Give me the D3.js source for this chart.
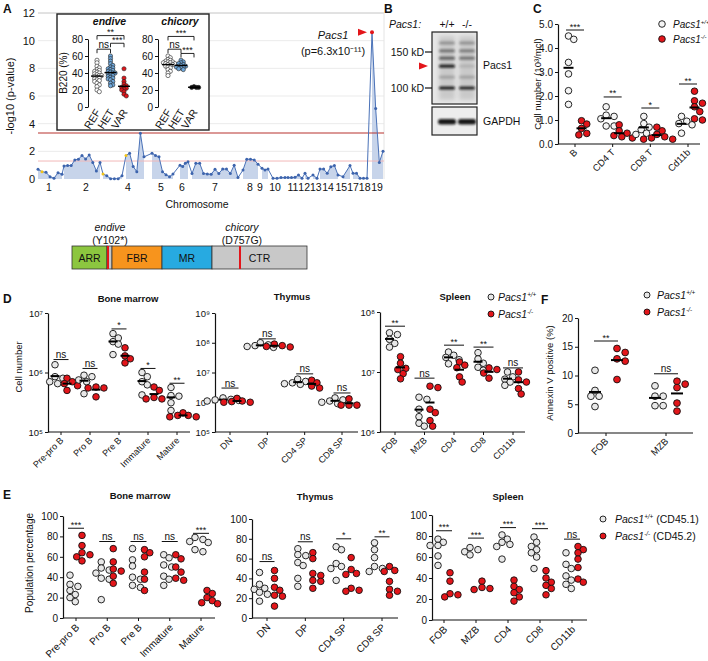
<!DOCTYPE html>
<html><head><meta charset="utf-8">
<script src="https://cdn.jsdelivr.net/npm/d3@7"></script>
<style>body{margin:0;background:#fff}svg{display:block;font-family:"Liberation Sans",Arial,Helvetica,sans-serif}text{fill:#111}</style>
</head><body><svg id="c" width="708" height="661"></svg>
<script>
// ================= DATA =================
// Panel A: Manhattan plot
const manhattanChroms = ["1","2","3","4","5","6","7","8","9","10","11","12","13","14","15","16-18","19"];
const manhattanSpans = [[0,24],[26,62],[65,84],[88,106],[114,135],[142,150],[154,200],[205,220],[224,230],[235,247],[250,264],[267,270],[275,279],[282,300],[305,312],[315,329],[334,345]];
const manhattanValues = [
 [0.7,0.53,0.48,0.17,0.05,0.46,0.34],
 [0.94,0.97,0.97,1.38,1.43,1.7,1.45,1.74,1.2,0.58,1.2],
 [0.36,0.24,0.02,0.02,0.02,0.24],
 [1.7,1.86,0.9,0.53,3.3,1.6],
 [1.86,1.7,1.6,0.53,0.3,0.17,0.36],
 [1.0,0.9,1.13,1.25],
 [0.4,1.13,1.13,0.4,0.36,0.34,0.7,0.4,0.72,0.72,0.4,1.0,0.1],
 [0.65,1.43,1.43,1.38,1.07],
 [0.77,0.65,0.72],
 [0.05,0.05,0.1,0.1],
 [0.1,0.1,0.12,0.29,0.05],
 [0.41,0.05],
 [0.29,0.05],
 [0.72,0.72,0.41,0.89,0.97,0.29],
 [0.17,0.97],
 [0.41,0.41,0.05,0.05,0.05],
 [10.6,5.1,1.2,2.0]
];
const manhattanYellow = [[0,1],[2,0],[3,0]];
const manhattanPeak = [16,0];
const chromLabels = ["1","2","4","5","6","7","8","9","10","11","1213","14","151718","19"];
const chromLabelPos = [11,48,90,123,144,177,212,222,237,255,272,290,315,339];
const thresholdStrict = 3.33, thresholdSuggestive = 1.3;
const manhattanTicks = [0,2,4,6,8,10,12];

// Inset (B220 %)
const insetGroups = ["REF","HET","VAR"];
const endiveVals = [
 [55,52,48,46,44,43,42,41,40,39,38,37,37,36,35,34,33,32,31,30,28,26,24,20,18],
 [60,57,54,51,49,47,46,45,44,43,42,41,40,40,39,38,37,36,35,34,33,32,30,28,26,25],
 [45,34,30,27,25,24,23,22,21,20,18,15,13]
];
const chicoryVals = [
 [60,58,56,55,54,53,53,52,52,51,51,50,50,49,48,47,46,44,42,40,37],
 [55,53,52,51,50,49,48,48,47,47,46,45,44],
 [23,23,23,24]
];
const endiveSig = [{a:0,b:2,t:"**",lvl:84},{a:0,b:1,t:"ns",lvl:68},{a:1,b:2,t:"***",lvl:75}];
const chicorySig = [{a:0,b:2,t:"***",lvl:83},{a:0,b:1,t:"ns",lvl:68},{a:1,b:2,t:"***",lvl:63}];

// Panel B: western blot
const blotLanes = ["+/+","-/-"];
const blotMarkers = [150,100];
const pacsBands = [
 {kd:166,wt:0.3,ko:0.3},{kd:152,wt:0.45,ko:0.4},{kd:140,wt:0.55,ko:0.45},
 {kd:128,wt:0.9,ko:0.12},{kd:113,wt:0.2,ko:0.2},{kd:100,wt:0.95,ko:0.9}
];
const gapdhBand = [0.95,0.95];

// Panel C
const cCats = ["B","CD4 T","CD8 T","Cd11b"];
const cWT = [[4.5,4.36,3.4,2.92,2.22,1.65],[1.55,1.2,1.15,1.05,0.75,0.75],[1.15,0.85,0.7,0.6,0.45,0.4],[1.15,0.95,0.85,0.8,0.45]];
const cKO = [[0.97,0.83,0.65,0.44,0.38],[0.8,0.55,0.45,0.35,0.3,0.25],[0.7,0.55,0.4,0.3,0.25,0.2,0.2],[2.2,1.8,1.7,1.55,1.35,1.05,1.0]];
const cSig = ["***","**","*","**"], cSigLevel = [4.75,1.96,1.5,2.5];
const cTicks = [0,1,2,3,4,5];

// Domain diagram
const domains = [
 {name:"ARR",s:0,e:35,c:"#8cc63f"},{name:"",s:35,e:40,c:"#c8c8c8"},
 {name:"FBR",s:40,e:90,c:"#f7941d"},{name:"MR",s:90,e:140,c:"#27aae1"},
 {name:"CTR",s:140,e:235,c:"#c8c8c8"}
];
const mutations = [{pos:36,name:"endive",aa:"(Y102*)"},{pos:168,name:"chicory",aa:"(D757G)"}];

// Panel D
const dBMCats = ["Pre-pro B","Pro B","Pre B","Immature","Mature"];
const dBMWT = [[1.35e6,8.5e5,8e5,7e5,6.5e5],[9e5,8.5e5,7.5e5,7e5,4.4e5],[4.5e6,3.8e6,3.3e6,3.0e6,2.0e6],[1.0e6,8.5e5,7e5,6.2e5,4.2e5],[5.6e5,4.1e5,4.0e5,3.1e5,2.3e5]];
const dBMKO = [[8e5,7e5,6.5e5,6e5,5e5],[5.7e5,5.5e5,5.5e5,3.9e5],[2.6e6,1.9e6,1.7e6,1.45e6],[5.7e5,5e5,3.8e5,3.6e5,3.6e5],[2.1e5,1.9e5,1.8e5,1.8e5,1.9e5]];
const dBMSig = ["ns","ns","*","*","**"], dBMSigLevel = [1.65e6,1.17e6,5.4e6,1.17e6,6.6e5];
const dThyCats = ["DN","DP","CD4 SP","CD8 SP"];
const dThyWT = [[1.4e6,1.25e6,1.15e6,1.1e6,1.2e6],[1.0e8,8.5e7,7.5e7,7e7,8e7],[6e6,5e6,4.5e6,4e6,4.2e6],[1.4e6,1.2e6,1.1e6,0.9e6,1.0e6]];
const dThyKO = [[1.35e6,1.1e6,1.0e6,1.0e6,1.05e6],[9e7,8e7,7.5e7,7.2e7],[5.5e6,4.5e6,3.5e6,3.0e6],[1.3e6,0.8e6,0.8e6,0.8e6]];
const dThySig = ["ns","ns","ns","ns"], dThySigLevel = [3e6,1.35e8,9e6,2.05e6];
const dSplCats = ["FOB","MZB","CD4","CD8","CD11b"];
const dSplWT = [[4.5e7,4.2e7,3.5e7,3.0e7,2.6e7],[3.8e6,3.5e6,2.4e6,1.8e6,1.4e6,1.25e6],[2.15e7,1.9e7,1.75e7,1.6e7,1.37e7],[2.1e7,1.65e7,1.4e7,1.2e7,1.07e7],[1.0e7,8.3e6,7.6e6,6.8e6,6e6]];
const dSplKO = [[1.8e7,1.4e7,1.15e7,1.1e7,9.4e6,7.7e6],[5.8e6,5.5e6,2.4e6,2.1e6,1.55e6,1.25e6],[1.47e7,1.3e7,1.18e7,8.3e6,6.8e6],[1.17e7,1.1e7,9.6e6,7.9e6],[1e7,7.4e6,6.8e6,5.3e6,4.3e6]];
const dSplSig = ["**","ns","**","**","ns"], dSplSigLevel = [5.8e7,7.9e6,2.8e7,2.6e7,1.17e7];

// Panel F
const fCats = ["FOB","MZB"];
const fWT = [[10.9,7.4,6.4,6.4,4.6],[8.2,6.4,6.4,4.75,4.75]];
const fKO = [[14.7,14.0,12.9,12.5,9.3],[9.0,8.5,7.9,5.2,3.8]];
const fSig = ["**","ns"], fSigLevel = [16,10.3];
const fTicks = [0,5,10,15,20];

// Panel E
const eTicks = [0,20,40,60,80,100];
const eBMWT = [[42,33,31,27,23,20,16],[55,49,47,44,39,38,18],[68,57,51,40,38,32,30],[62,59,52,50,41,38,32],[79,77,75,74,67,65]];
const eBMKO = [[81,71,64,62,60,56],[68,55,48,46,41,34],[67,64,60,45,38,27],[62,58,50,45,39,37],[27,24,20,17,15,14]];
const eBMSig = ["***","ns","ns","ns","***"], eBMSigLevel = [88,75,75,75,83];
const eThyWT = [[46,34,30,29,26,24,17],[70,64,63,56,53,40,32],[72,69,55,52,50,38],[76,69,61,52,50,47]];
const eThyKO = [[48,40,31,28,23,22,12],[66,60,45,43,38,37,30],[61,49,45,44,30,28,27],[52,48,47,37,29,27,23]];
const eThySig = ["ns","ns","*","**"], eThySigLevel = [57,77,80,82];
const eSplWT = [[77,74,71,71,61,52],[69,67,65,62],[81,77,74,72,70,58],[79,74,70,67,64,60,49],[64,53,49,42,38,34,30]];
const eSplKO = [[45,37,25,24,22],[37,31,30,29],[38,32,29,26,22,18],[47,40,36,33,30,24],[70,67,64,58,50,39,36]];
const eSplSig = ["***","***","***","***","ns"], eSplSigLevel = [85,78,88,87,77];

// ================= DRAWING =================
const svg = d3.select("#c");
const RED = "#e3151a", WT = "#e8e8e8", INK = "#111";
const defs = svg.append("defs");
defs.append("filter").attr("id","blur").attr("x","-50%").attr("y","-100%").attr("width","200%").attr("height","300%")
  .append("feGaussianBlur").attr("stdDeviation",0.9);
defs.append("filter").attr("id","blur2").attr("x","-50%").attr("y","-50%").attr("width","200%").attr("height","200%")
  .append("feGaussianBlur").attr("stdDeviation",2.2);

function txt(sel,x,y,s,size,o={}){
  const t=sel.append("text").attr("x",x).attr("y",y).attr("font-size",size).attr("text-anchor",o.anchor||"start");
  if(o.bold) t.attr("font-weight","bold");
  if(o.italic) t.attr("font-style","italic");
  if(o.rot!==undefined) t.attr("transform",`rotate(${o.rot},${x},${y})`);
  t.text(s); return t;
}
function pacsText(sel,x,y,size,sup,extra,anchor){
  const t=sel.append("text").attr("x",x).attr("y",y).attr("font-size",size).attr("text-anchor",anchor||"start");
  t.append("tspan").attr("font-style","italic").text("Pacs1");
  t.append("tspan").attr("font-size",size*0.6).attr("dy",-size*0.38).attr("font-style","italic").text(sup);
  if(extra) t.append("tspan").attr("dy",size*0.38).text(extra);
  return t;
}
function swarm(vals,ys,x0,r,spread,coll){
  const pts=vals.map(v=>({v,y:ys(v)})).sort((a,b)=>a.y-b.y);
  const placed=[]; const step=r*(spread||0.8); const minD=2*r*(coll||0.88);
  for(const p of pts){
    p.x=x0;
    for(let k=0;k<80;k++){
      const off=k===0?0:((k%2)?1:-1)*Math.ceil(k/2)*step;
      const xx=x0+off;
      if(placed.every(q=>(q.x-xx)**2+(q.y-p.y)**2>=minD*minD)){p.x=xx;break;}
    }
    placed.push(p);
  }
  return placed;
}

// ---------- Panel A ----------
txt(svg,3,13,"A",12,{bold:true});
const xA=d3.scaleLinear().domain([0,346]).range([38,384]);
const yA=d3.scaleLinear().domain([0,12]).range([179,13]);
const gA=svg.append("g");
gA.selectAll(".grid").data(manhattanTicks.filter(d=>d>0)).join("line")
  .attr("x1",xA(0)).attr("x2",xA(346)).attr("y1",d=>yA(d)).attr("y2",d=>yA(d))
  .attr("stroke",d=>d===12?"#c4c4c4":"#ebebeb").attr("stroke-width",1);
gA.append("line").attr("x1",xA(346)).attr("x2",xA(346)).attr("y1",yA(12)).attr("y2",yA(0)).attr("stroke","#e4e4e4");
const mPts=[];
manhattanValues.forEach((vals,i)=>{
  const [s0,s1]=manhattanSpans[i];
  vals.forEach((v,j)=>mPts.push({chr:i,j,v,pos:vals.length>1?s0+(s1-s0)*j/(vals.length-1):s0}));
});
const area=d3.area().x(p=>xA(p.pos)).y0(yA(0)).y1(p=>yA(p.v));
manhattanChroms.forEach((c,i)=>{
  gA.append("path").datum(mPts.filter(p=>p.chr===i)).attr("d",area).attr("fill","#c7d4ea");
});
gA.append("line").attr("x1",xA(0)).attr("x2",xA(346)).attr("y1",yA(thresholdSuggestive)).attr("y2",yA(thresholdSuggestive)).attr("stroke","#f2b8b8").attr("stroke-width",1);
gA.append("line").attr("x1",xA(0)).attr("x2",xA(346)).attr("y1",yA(thresholdStrict)).attr("y2",yA(thresholdStrict)).attr("stroke","#b8322e").attr("stroke-width",1.1);
gA.append("path").datum(mPts).attr("d",d3.line().x(p=>xA(p.pos)).y(p=>yA(p.v))).attr("fill","none").attr("stroke","#4a72b8").attr("stroke-width",1);
const isYellow=p=>manhattanYellow.some(([c,j])=>c===p.chr&&j===p.j);
const isPeak=p=>p.chr===manhattanPeak[0]&&p.j===manhattanPeak[1];
gA.selectAll(".mp").data(mPts).join("circle").attr("cx",p=>xA(p.pos)).attr("cy",p=>yA(p.v))
  .attr("r",p=>isPeak(p)?2:1.5).attr("fill",p=>isPeak(p)?RED:isYellow(p)?"#f2c318":"#3d64ad");
gA.selectAll(".yt").data(manhattanTicks).join("text").attr("x",35).attr("y",d=>yA(d)+4).attr("text-anchor","end").attr("font-size",11).text(d=>d);
gA.selectAll(".cl").data(chromLabels).join("text").attr("x",(d,i)=>xA(chromLabelPos[i])).attr("y",191).attr("text-anchor","middle").attr("font-size",10.5).text(d=>d);
txt(gA,14,96,"-log10 (p-value)",11,{anchor:"middle",rot:-90});
txt(gA,197,208,"Chromosome",10.5,{anchor:"middle"});
const peak=mPts.find(isPeak);
const px=xA(peak.pos), py=yA(peak.v);
gA.append("path").attr("d",`M${px-14},${py-3.5}L${px-5},${py}L${px-14},${py+3.5}Z`).attr("fill",RED);
txt(gA,333,39,"Pacs1",11,{anchor:"middle",italic:true});
txt(gA,333,55,"(p=6.3x10⁻¹¹)",11,{anchor:"middle"});

// inset
const gI=svg.append("g");
gI.append("rect").attr("x",57).attr("y",14).attr("width",152).attr("height",116).attr("fill","#fff").attr("stroke","#222").attr("stroke-width",1.4);
const yI=d3.scaleLinear().domain([0,80]).range([107,39]);
txt(gI,67,73,"B220 (%)",10,{anchor:"middle",rot:-90});
function insetPlot(axisX,range,vals,fills,sigs,title){
  const x=d3.scalePoint().domain(insetGroups).range(range);
  const ax=gI.append("g").attr("transform",`translate(${axisX},0)`).call(d3.axisLeft(yI).tickValues([0,20,40,60,80]).tickSize(3).tickSizeOuter(0).tickPadding(2));
  ax.selectAll("text").attr("font-size",10).attr("font-family","inherit").attr("fill",INK);
  ax.selectAll("line,path").attr("stroke",INK);
  txt(gI,(range[0]+range[1])/2-1,25,title,10.5,{anchor:"middle",bold:true,italic:true});
  insetGroups.forEach((g,i)=>{
    const pts=swarm(vals[i],yI,x(g),2.1,0.55,0.55);
    gI.selectAll(null).data(pts).join("circle").attr("cx",p=>p.x).attr("cy",p=>p.y).attr("r",2.1)
      .attr("fill",fills[i]).attr("stroke","#222").attr("stroke-width",0.6);
    const m=d3.mean(vals[i]);
    gI.append("line").attr("x1",x(g)-6).attr("x2",x(g)+6).attr("y1",yI(m)).attr("y2",yI(m)).attr("stroke","#000").attr("stroke-width",1.4);
    gI.append("text").attr("transform",`translate(${x(g)+4},${112}) rotate(-58)`).attr("text-anchor","end").attr("font-size",10.5).text(g);
  });
  sigs.forEach(s=>{
    const y=yI(s.lvl), xa=x(insetGroups[s.a]), xb=x(insetGroups[s.b]);
    gI.append("path").attr("d",`M${xa},${y+4}V${y}H${xb}V${y+4}`).attr("fill","none").attr("stroke",INK).attr("stroke-width",0.9);
    gI.append("text").attr("x",(xa+xb)/2).attr("y",s.t==="ns"?y-1.5:y-0.5).attr("text-anchor","middle").attr("font-size",s.t==="ns"?10:9).text(s.t);
  });
}
insetPlot(88,[97,124],endiveVals,["#fff","#6fa8dc",RED],endiveSig,"endive");
insetPlot(158,[168,194],chicoryVals,["#fff","#6fa8dc","#111"],chicorySig,"chicory");

// ---------- Panel B ----------
const gB=svg.append("g");
txt(gB,384,13,"B",12,{bold:true});
const yBlot=d3.scaleLog().domain([100,150]).range([88,52]);
const xBlot=d3.scalePoint().domain(blotLanes).range([447,467]);
txt(gB,389,28,"Pacs1:",10.5,{italic:true});
blotLanes.forEach(l=>txt(gB,xBlot(l),28,l,10.5,{anchor:"middle"}));
gB.append("rect").attr("x",432).attr("y",32).attr("width",45).attr("height",72).attr("fill","#e6e6e6");
gB.append("rect").attr("x",432).attr("y",107).attr("width",45).attr("height",28).attr("fill","#ededed");
blotLanes.forEach((l,li)=>{
  gB.append("rect").attr("x",xBlot(l)-8).attr("y",36).attr("width",16).attr("height",64).attr("fill","#a8a8a8").attr("opacity",0.45).attr("filter","url(#blur2)");
  pacsBands.forEach(b=>{
    gB.append("rect").attr("x",xBlot(l)-8).attr("y",yBlot(b.kd)-1.6).attr("width",16).attr("height",3.2).attr("rx",1.5)
      .attr("fill","#111").attr("opacity",li===0?b.wt:b.ko).attr("filter","url(#blur)");
  });
  gB.append("rect").attr("x",xBlot(l)-9).attr("y",119).attr("width",18).attr("height",5.5).attr("rx",2.5)
    .attr("fill","#111").attr("opacity",gapdhBand[li]).attr("filter","url(#blur)");
});
gB.append("rect").attr("x",432).attr("y",32).attr("width",45).attr("height",72).attr("fill","none").attr("stroke","#222").attr("stroke-width",1.2);
gB.append("rect").attr("x",432).attr("y",107).attr("width",45).attr("height",28).attr("fill","none").attr("stroke","#222").attr("stroke-width",1.2);
blotMarkers.forEach(m=>{
  gB.append("line").attr("x1",425).attr("x2",432).attr("y1",yBlot(m)).attr("y2",yBlot(m)).attr("stroke",INK).attr("stroke-width",1.2);
  txt(gB,424,yBlot(m)+3.8,m+" kD",10.5,{anchor:"end"});
});
const ay=yBlot(pacsBands[3].kd);
gB.append("path").attr("d",`M419,${ay-3.5}L428,${ay}L419,${ay+3.5}Z`).attr("fill",RED);
txt(gB,483,69,"Pacs1",10.5);
txt(gB,483,125,"GAPDH",10.5);

// ---------- generic dot panel ----------
function dotPanel(o){
  const g=svg.append("g");
  const x=d3.scalePoint().domain(o.cats).range(o.catRange);
  const yb=o.y.range()[0];
  const ax=d3.axisLeft(o.y).tickValues(o.ticks).tickSize(3).tickSizeOuter(0).tickPadding(2);
  if(o.fmt) ax.tickFormat(o.fmt);
  const ga=g.append("g").attr("transform",`translate(${o.axisX0},0)`).call(ax);
  ga.selectAll("text").attr("font-size",o.tickSize||9.5).attr("fill",INK).attr("font-family","inherit");
  ga.selectAll("line,path").attr("stroke",INK);
  ga.select(".domain").attr("stroke-width",1.2);
  g.append("line").attr("x1",o.axisX0).attr("x2",o.axisX1).attr("y1",yb).attr("y2",yb).attr("stroke",INK).attr("stroke-width",1.2);
  g.selectAll(".xt").data(o.cats).join("line").attr("x1",d=>x(d)).attr("x2",d=>x(d)).attr("y1",yb).attr("y2",yb+3).attr("stroke",INK);
  g.selectAll(".xl").data(o.cats).join("text").attr("transform",d=>`translate(${x(d)+o.lx},${yb+o.ly}) rotate(-45)`)
    .attr("text-anchor","end").attr("font-size",o.catSize).text(d=>d);
  o.cats.forEach((c,i)=>{
    [[o.wt[i],-o.off,o.wtFill||WT],[o.ko[i],o.off,RED]].forEach(([vals,dx,fill])=>{
      const pts=swarm(vals,o.y,x(c)+dx,o.r,o.spread);
      g.selectAll(null).data(pts).join("circle").attr("cx",p=>p.x).attr("cy",p=>p.y).attr("r",o.r)
        .attr("fill",fill).attr("stroke",INK).attr("stroke-width",0.9);
      if(o.means){const m=d3.mean(vals);
        g.append("line").attr("x1",x(c)+dx-o.mw).attr("x2",x(c)+dx+o.mw).attr("y1",o.y(m)).attr("y2",o.y(m)).attr("stroke","#000").attr("stroke-width",2);}
    });
    const sy=o.y(o.sigLevel[i]); const s=o.sig[i];
    g.append("line").attr("x1",x(c)-o.sigHalf).attr("x2",x(c)+o.sigHalf).attr("y1",sy).attr("y2",sy).attr("stroke",INK).attr("stroke-width",1);
    g.append("text").attr("x",x(c)).attr("y",s==="ns"?sy-1.5:sy-0.5).attr("text-anchor","middle").attr("font-size",s==="ns"?10:9).text(s);
  });
  if(o.title) txt(g,o.title[1],o.title[2],o.title[0],9.5,{anchor:"middle",bold:true});
  return g;
}
const supDigits={5:"⁵",6:"⁶",7:"⁷",8:"⁸",9:"⁹"};
const logFmt=d=>"10"+supDigits[Math.round(Math.log10(d))];

// ---------- Panel C ----------
txt(svg,533,13,"C",12,{bold:true});
dotPanel({cats:cCats,wt:cWT,ko:cKO,axisX0:558,axisX1:700,catRange:[575,688],
  y:d3.scaleLinear().domain([0,5]).range([144,24]),ticks:cTicks,r:3.3,off:6.5,means:true,mw:5,
  sig:cSig,sigLevel:cSigLevel,sigHalf:9,lx:3,ly:9,catSize:9.5,tickSize:10,wtFill:"#f4f4f4",spread:0.8});
txt(svg,541,84,"Cell number (10³/mcl)",9.5,{anchor:"middle",rot:-90});
svg.append("circle").attr("cx",662).attr("cy",24).attr("r",3.3).attr("fill","#f4f4f4").attr("stroke",INK).attr("stroke-width",0.9);
svg.append("circle").attr("cx",662).attr("cy",39).attr("r",3.3).attr("fill",RED).attr("stroke",INK).attr("stroke-width",0.9);
pacsText(svg,673,28,10,"+/+");
pacsText(svg,673,43,10,"-/-");

// ---------- domain diagram ----------
const xDom=d3.scaleLinear().domain([0,235]).range([72,307]);
const gDom=svg.append("g");
domains.forEach(d=>{
  gDom.append("rect").attr("x",xDom(d.s)).attr("y",246).attr("width",xDom(d.e)-xDom(d.s)).attr("height",23).attr("fill",d.c).attr("stroke","#333").attr("stroke-width",0.8);
  if(d.name) txt(gDom,xDom((d.s+d.e)/2),261.5,d.name,10.5,{anchor:"middle"});
});
mutations.forEach(m=>{
  gDom.append("line").attr("x1",xDom(m.pos)).attr("x2",xDom(m.pos)).attr("y1",246).attr("y2",269).attr("stroke",RED).attr("stroke-width",2);
  txt(gDom,xDom(m.pos)+2,231,m.name,10.5,{anchor:"middle",italic:true});
  txt(gDom,xDom(m.pos)+2,244,m.aa,10.5,{anchor:"middle"});
});

// ---------- Panel D ----------
txt(svg,3,303,"D",12,{bold:true});
dotPanel({cats:dBMCats,wt:dBMWT,ko:dBMKO,axisX0:48,axisX1:190,catRange:[61,177],
  y:d3.scaleLog().domain([1e5,1e7]).range([432,313]),ticks:[1e5,1e6,1e7],fmt:logFmt,r:3.3,off:6,means:true,mw:4.5,
  sig:dBMSig,sigLevel:dBMSigLevel,sigHalf:7.5,lx:3,ly:9,catSize:9,title:["Bone marrow",128,302]});
txt(svg,22,367,"Cell number",9.5,{anchor:"middle",rot:-90});
dotPanel({cats:dThyCats,wt:dThyWT,ko:dThyKO,axisX0:215,axisX1:358,catRange:[230,342],
  y:d3.scaleLog().domain([1e5,1e9]).range([432,313]),ticks:[1e5,1e6,1e7,1e8,1e9],fmt:logFmt,r:3.3,off:7,means:true,mw:4.5,
  sig:dThySig,sigLevel:dThySigLevel,sigHalf:8.5,lx:3,ly:9,catSize:9,title:["Thymus",292,300]});
dotPanel({cats:dSplCats,wt:dSplWT,ko:dSplKO,axisX0:380,axisX1:525,catRange:[395,513],
  y:d3.scaleLog().domain([1e6,1e8]).range([432,312]),ticks:[1e6,1e7,1e8],fmt:logFmt,r:3.3,off:5.5,means:true,mw:4.5,
  sig:dSplSig,sigLevel:dSplSigLevel,sigHalf:10,lx:3,ly:9,catSize:9,title:["Spleen",455,300]});
svg.append("circle").attr("cx",491).attr("cy",297).attr("r",3).attr("fill",WT).attr("stroke",INK).attr("stroke-width",0.9);
svg.append("circle").attr("cx",491).attr("cy",314).attr("r",3).attr("fill",RED).attr("stroke",INK).attr("stroke-width",0.9);
pacsText(svg,498,301,10.5,"+/+");
pacsText(svg,498,318,10.5,"-/-");

// ---------- Panel F ----------
txt(svg,541,304,"F",12,{bold:true});
dotPanel({cats:fCats,wt:fWT,ko:fKO,axisX0:578,axisX1:693,catRange:[606,666],
  y:d3.scaleLinear().domain([0,20]).range([433,318]),ticks:fTicks,r:3.4,off:11,means:true,mw:6,
  sig:fSig,sigLevel:fSigLevel,sigHalf:12,lx:3,ly:9,catSize:9.5,tickSize:10,spread:1.2});
txt(svg,553,373,"Annexin V positive (%)",9.5,{anchor:"middle",rot:-90});
svg.append("circle").attr("cx",647).attr("cy",295).attr("r",3).attr("fill",WT).attr("stroke",INK).attr("stroke-width",0.9);
svg.append("circle").attr("cx",647).attr("cy",312).attr("r",3).attr("fill",RED).attr("stroke",INK).attr("stroke-width",0.9);
pacsText(svg,657,299,10.5,"+/+");
pacsText(svg,657,316,10.5,"-/-");

// ---------- Panel E ----------
txt(svg,3,499,"E",12,{bold:true});
dotPanel({cats:dBMCats,wt:eBMWT,ko:eBMKO,axisX0:63,axisX1:215,catRange:[76,201],
  y:d3.scaleLinear().domain([0,100]).range([618,516]),ticks:eTicks,r:3.3,off:6,means:false,
  sig:eBMSig,sigLevel:eBMSigLevel,sigHalf:8,lx:4,ly:10,catSize:10,tickSize:10,title:["Bone marrow",140,499]});
txt(svg,33,563,"Population percentage",10,{anchor:"middle",rot:-90});
dotPanel({cats:dThyCats,wt:eThyWT,ko:eThyKO,axisX0:252,axisX1:398,catRange:[267,382],
  y:d3.scaleLinear().domain([0,100]).range([618,519]),ticks:eTicks,r:3.3,off:7.5,means:false,
  sig:eThySig,sigLevel:eThySigLevel,sigHalf:7.5,lx:4,ly:10,catSize:10,tickSize:10,title:["Thymus",315,500]});
dotPanel({cats:dSplCats,wt:eSplWT,ko:eSplKO,axisX0:432,axisX1:587,catRange:[444,572],
  y:d3.scaleLinear().domain([0,100]).range([620,515]),ticks:eTicks,r:3.3,off:6,means:false,
  sig:eSplSig,sigLevel:eSplSigLevel,sigHalf:8,lx:4,ly:10,catSize:10,tickSize:10,title:["Spleen",508,500]});
svg.append("circle").attr("cx",603).attr("cy",519).attr("r",3).attr("fill",WT).attr("stroke",INK).attr("stroke-width",0.9);
svg.append("circle").attr("cx",603).attr("cy",536).attr("r",3).attr("fill",RED).attr("stroke",INK).attr("stroke-width",0.9);
pacsText(svg,615,523,10.5,"+/+"," (CD45.1)");
pacsText(svg,615,540,10.5,"-/-"," (CD45.2)");
</script></body></html>
